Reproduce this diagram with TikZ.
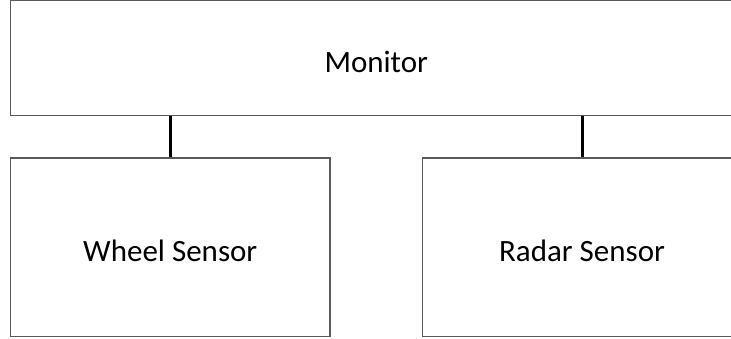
\documentclass[tikz,border=0pt]{standalone}
\usepackage{fontspec}
\setmainfont{Carlito}
\begin{document}
\begin{tikzpicture}[x=1pt,y=-1pt,
  box/.style={draw=black!65, line width=1.4pt, fill=white, inner sep=0pt,
    font=\fontsize{31}{36}\selectfont, text=black, text depth=0pt},
  link/.style={draw=black, line width=3pt}]
\useasboundingbox (0,0) rectangle (731,338);
% top block and the two sensor blocks under it
\node[box, minimum width=731.5pt, minimum height=115pt, text height=29pt] (monitor) at (376.25,58) {Monitor};
\node[box, minimum width=319.5pt, minimum height=178.5pt, text height=27.5pt] (wheel) at (170.25,247.25) {Wheel Sensor};
\node[box, minimum width=319.5pt, minimum height=178.5pt, text height=27.5pt] (radar) at (582,247.25) {Radar Sensor};
% vertical links from each sensor up to the monitor
\draw[link] (wheel.north) -- (monitor.south -| wheel.north);
\draw[link] (radar.north) -- (monitor.south -| radar.north);
\end{tikzpicture}
\end{document}
